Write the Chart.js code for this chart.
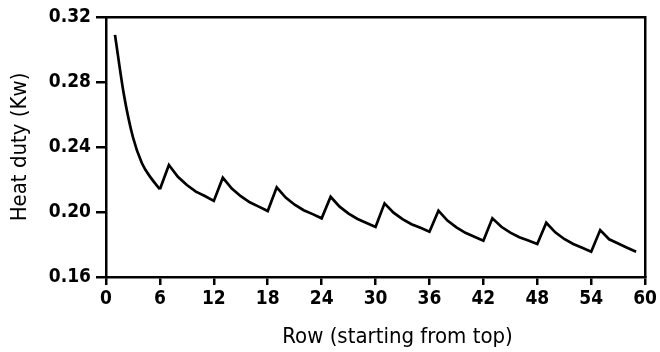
<!DOCTYPE html>
<html>
<head>
<meta charset="utf-8">
<script src="https://cdn.jsdelivr.net/npm/chart.js@4.4.1/dist/chart.umd.min.js"></script>
<style>
  html, body { margin: 0; padding: 0; background: #fff; }
  #wrap { width: 660px; height: 352px; }
</style>
</head>
<body>
<div id="wrap"><canvas id="chartHeat"></canvas></div>
<script>
// Row numbers (starting from top)
const rows = [];
for (let i = 1; i <= 59; i++) rows.push(i);

// Heat duty per row (Kw)
const heatDuty = [
  0.309, 0.272, 0.246, 0.230, 0.221, 0.2140,
  0.2289, 0.2217, 0.2166, 0.2125, 0.2098, 0.2068,
  0.2211, 0.2144, 0.2097, 0.2060, 0.2033, 0.2006,
  0.2152, 0.2089, 0.2045, 0.2011, 0.1987, 0.1961,
  0.2094, 0.2033, 0.1990, 0.1957, 0.1933, 0.1908,
  0.2053, 0.1996, 0.1956, 0.1925, 0.1903, 0.1879,
  0.2008, 0.1947, 0.1905, 0.1872, 0.1848, 0.1823,
  0.1961, 0.1909, 0.1873, 0.1845, 0.1825, 0.1803,
  0.1934, 0.1875, 0.1834, 0.1803, 0.1780, 0.1756,
  0.1889, 0.1832, 0.1806, 0.1780, 0.1756
];

// axis ranges / ticks
const xTicks = [0, 6, 12, 18, 24, 30, 36, 42, 48, 54, 60];
const yTicks = [0.16, 0.20, 0.24, 0.28, 0.32];

const fontFam = '"DejaVu Sans Condensed", "DejaVu Sans", sans-serif';
const tickFont = { family: fontFam, size: 19, weight: 'bold' };
const titleFont = { family: fontFam, size: 22 };

const points = rows.map((r, i) => ({ x: r, y: heatDuty[i] }));
// first block (rows 1-6) is a smooth decay, the rest is a sawtooth
const firstBlock = points.slice(0, 6);
const restBlock = points.slice(5);

const lineStyle = {
  borderColor: '#000',
  borderWidth: 2.7,
  pointRadius: 0,
  fill: false
};

const ctx = document.getElementById('chartHeat').getContext('2d');
const myChart = new Chart(ctx, {
  type: 'line',
  data: {
    datasets: [
      Object.assign({ label: 'Heat duty', data: firstBlock, cubicInterpolationMode: 'monotone' }, lineStyle),
      Object.assign({ label: 'Heat duty ', data: restBlock, tension: 0 }, lineStyle)
    ]
  },
  options: {
    responsive: true,
    maintainAspectRatio: false,
    animation: false,
    layout: { padding: { top: 17, right: 14, left: 0, bottom: 0 } },
    plugins: { legend: { display: false }, tooltip: { enabled: false } },
    scales: {
      x: {
        type: 'linear',
        position: 'bottom',
        min: xTicks[0],
        max: xTicks[xTicks.length - 1],
        afterBuildTicks: (s) => { s.ticks = xTicks.map(v => ({ value: v })); },
        afterFit: (s) => { s.height = 75; },
        ticks: { color: '#000', font: tickFont, padding: 3, maxRotation: 0 },
        grid: { display: true, drawOnChartArea: false, drawTicks: true, tickLength: 8, color: '#000', lineWidth: 2.5 },
        border: { display: true, color: '#000', width: 2.5 },
        title: { display: true, text: '       Row (starting from top)', color: '#000', font: titleFont, padding: { top: 0, bottom: 2 } }
      },
      y: {
        position: 'left',
        min: yTicks[0],
        max: yTicks[yTicks.length - 1],
        afterBuildTicks: (s) => { s.ticks = yTicks.map(v => ({ value: v })); },
        afterFit: (s) => { s.width = 106; },
        ticks: { color: '#000', font: tickFont, padding: 5, callback: (v) => Number(v).toFixed(2) },
        grid: { display: true, drawOnChartArea: false, drawTicks: true, tickLength: 10, color: '#000', lineWidth: 2.5 },
        border: { display: true, color: '#000', width: 2.5 },
        title: { display: true, text: 'Heat duty (Kw)', color: '#000', font: titleFont, padding: { top: 7, bottom: 0 } }
      },
      xTop: {
        type: 'linear',
        position: 'top',
        min: 0, max: 60,
        afterFit: (s) => { s.height = 0; },
        ticks: { display: false },
        grid: { display: false },
        border: { display: true, color: '#000', width: 2.5 }
      },
      yRight: {
        position: 'right',
        min: 0.16, max: 0.32,
        afterFit: (s) => { s.width = 0; },
        ticks: { display: false },
        grid: { display: false },
        border: { display: true, color: '#000', width: 2.5 }
      }
    }
  }
});
</script>
</body>
</html>
